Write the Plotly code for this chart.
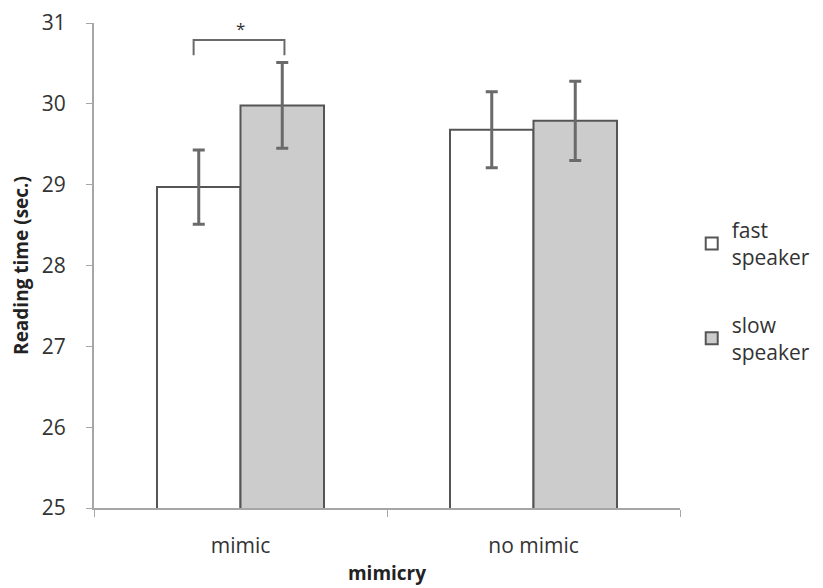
import plotly.graph_objects as go

categories = ["mimic", "no mimic"]
series_names = ["fast<br>speaker", "slow<br>speaker"]
fast_values = [28.97, 29.68]
slow_values = [29.98, 29.79]
fast_err = [0.46, 0.47]
slow_err = [0.53, 0.49]
y_ticks = [25, 26, 27, 28, 29, 30, 31]

font_family = "Open Sans, Liberation Sans, sans-serif"

fig = go.Figure()
fig.add_trace(go.Bar(
    x=categories, y=fast_values, name=series_names[0], legendgroup="fast",
    marker=dict(color="white", line=dict(color="#555555", width=2)),
    error_y=dict(type="data", array=fast_err, color="#6a6a6a", thickness=3, width=6),
))
fig.add_trace(go.Bar(
    x=categories, y=slow_values, name=series_names[1], legendgroup="slow",
    marker=dict(color="#cccccc", line=dict(color="#555555", width=2)),
    error_y=dict(type="data", array=slow_err, color="#6a6a6a", thickness=3, width=6),
))

# significance bracket
fig.add_shape(type="path", xref="x", yref="y",
              path="M -0.16,30.6 L -0.16,30.79 L 0.15,30.79 L 0.15,30.6",
              line=dict(color="#6a6a6a", width=2))
fig.add_annotation(x=0, y=30.93, xref="x", yref="y", text="*", showarrow=False,
                   font=dict(size=17, color="#333333", family=font_family))

fig.update_layout(
    width=815, height=580,
    margin=dict(l=86, r=143, t=15, b=80, autoexpand=False),
    plot_bgcolor="white", paper_bgcolor="white",
    barmode="group", bargap=0.43, bargroupgap=0,
    font=dict(family=font_family, color="#333333"),
    showlegend=True,
    legend=dict(x=1.02, y=0.615, xanchor="left", yanchor="top",
                font=dict(size=21, color="#333333"), tracegroupgap=37,
                itemwidth=30, traceorder="grouped"),
    xaxis=dict(
        automargin=False,
        showline=True, linecolor="#a6a6a6", linewidth=2,
        ticks="outside", tickson="boundaries", ticklen=7, tickcolor="#a6a6a6",
        ticklabelstandoff=18,
        tickfont=dict(size=21, color="#333333"),
        title=dict(text="<b>mimicry</b>", font=dict(size=19, color="#222222"), standoff=8),
    ),
    yaxis=dict(
        automargin=False,
        range=[25, 31], tickvals=y_ticks,
        showline=True, linecolor="#a6a6a6", linewidth=2,
        ticks="outside", ticklen=6, tickcolor="#a6a6a6",
        ticklabelstandoff=16, ticklabeloverflow="allow",
        showgrid=False, zeroline=False,
        tickfont=dict(size=21, color="#333333"),
        title=dict(text="<b>Reading time (sec.)</b>", font=dict(size=19, color="#222222"), standoff=12),
    ),
)

fig.write_html("out.html")
